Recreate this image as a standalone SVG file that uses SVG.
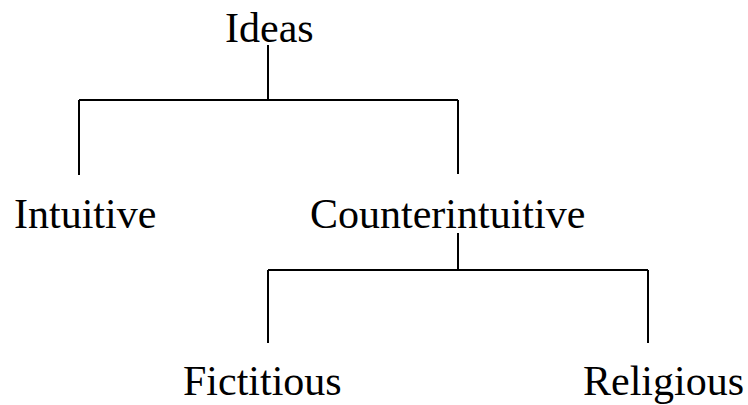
<svg xmlns="http://www.w3.org/2000/svg" width="748" height="405" viewBox="0 0 748 405">
<style>
.lbl{font-family:"Liberation Serif","Times New Roman",serif;font-size:42px;fill:#000}
.edge{stroke:#000;stroke-width:2;fill:none}
</style>
<rect width="748" height="405" fill="#fff"/>
<g id="connectors">
<path class="edge" d="M268,45V100M79,100H458M79,100V175M458,100V174"/>
<path class="edge" d="M458,233V270M268,270H648M268,270V343M648,270V343"/>
</g>
<g id="node-ideas"><text class="lbl" x="225" y="42">Ideas</text></g>
<g id="node-intuitive"><text class="lbl" x="14" y="228">Intuitive</text></g>
<g id="node-counterintuitive"><text class="lbl" x="310" y="228">Counterintuitive</text></g>
<g id="node-fictitious"><text class="lbl" x="183" y="395">Fictitious</text></g>
<g id="node-religious"><text class="lbl" x="583" y="395">Religious</text></g>
</svg>
